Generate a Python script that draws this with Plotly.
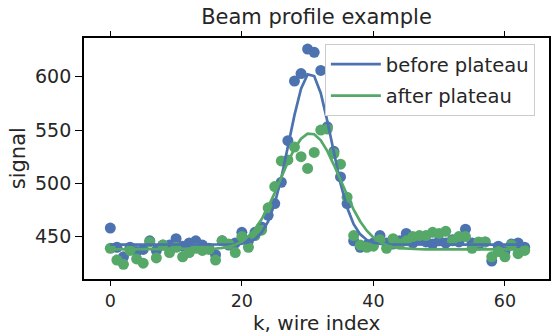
import numpy as np
import plotly.graph_objects as go

# ---- data ----
wire_index = list(range(64))

signal_before = [458, 440, 431, 440, 436, 438, 446, 437, 442, 442,
                 448, 441, 444, 446, 442, 439, 433, 446, 442, 444,
                 454, 446, 454, 459, 470, 481, 501, 540, 596, 603,
                 626, 623, 606, 553, 530, 506, 481, 446, 440, 442,
                 444, 451, 444, 443, 446, 453, 444, 447, 445, 443,
                 446, 444, 447, 445, 457, 444, 442, 445, 427, 441,
                 436, 443, 444, 440]

signal_after = [439, 428, 424, 437, 429, 425, 445, 430, 442, 435,
                440, 431, 435, 439, 437, 438, 428, 446, 443, 435,
                450, 440, 451, 456, 477, 497, 521, 522, 534, 525,
                514, 529, 550, 551, 528, 518, 487, 451, 442, 440,
                441, 447, 439, 448, 443, 446, 450, 451, 451, 454,
                453, 455, 446, 450, 450, 439, 445, 445, 431, 436,
                431, 442, 434, 437]

# Gaussian fit parameters (baseline, amplitude, centre, sigma)
fit_before = dict(base=442.5, amp=161.0, mu=30.4, sigma=3.2)
fit_after = dict(base=438.0, amp=109.0, mu=30.4, sigma=4.5)

series_names = ["before plateau", "after plateau"]
colors = ["#4C72B0", "#55A868"]

x_ticks = [0, 20, 40, 60]
y_ticks = [450, 500, 550, 600]


def gauss(k, p):
    k = np.asarray(k, dtype=float)
    return p["base"] + p["amp"] * np.exp(-(k - p["mu"]) ** 2 / (2 * p["sigma"] ** 2))


fig = go.Figure()
for vals, col in zip([signal_before, signal_after], colors):
    fig.add_trace(go.Scatter(x=wire_index, y=vals, mode="markers",
                             marker=dict(color=col, size=11, line=dict(width=0)),
                             showlegend=False, hoverinfo="skip"))
for i, (p, col, name) in enumerate(zip([fit_before, fit_after], colors, series_names)):
    fig.add_trace(go.Scatter(x=wire_index, y=gauss(wire_index, p), mode="lines",
                             line=dict(color=col, width=2.7), name=name,
                             legendgroup=f"g{i}"))

font_family = "DejaVu Sans"
text_col = "#262626"
axis_common = dict(showgrid=False, zeroline=False, showline=True,
                   linecolor="black", linewidth=1.8, ticks="outside",
                   tickwidth=1.4, tickcolor="black")

fig.update_layout(
    width=553, height=335,
    margin=dict(l=84, r=2, t=38, b=56),
    plot_bgcolor="white", paper_bgcolor="white",
    font=dict(family=font_family, color=text_col),
    title=dict(text="Beam profile example", x=0.5, xref="paper", xanchor="center",
               y=1 - 17 / 335, yanchor="middle",
               font=dict(family=font_family, size=21, color=text_col)),
    xaxis=dict(range=[-4.0, 66.7], tickvals=x_ticks, mirror="ticks", ticklen=5,
               tickfont=dict(family=font_family, size=17.5, color=text_col),
               **axis_common),
    yaxis=dict(range=[410.2, 636.4], tickvals=y_ticks, mirror=True, ticklen=7,
               tickfont=dict(family=font_family, size=19, color=text_col),
               **axis_common),
    legend=dict(x=0.518, y=0.975, xanchor="left", yanchor="top",
                bgcolor="white", bordercolor="#cccccc", borderwidth=1,
                itemwidth=50, tracegroupgap=3, traceorder="grouped",
                font=dict(family=font_family, size=19.5, color=text_col)),
    annotations=[
        dict(text="k, wire index", x=0.5, y=0, xref="paper", yref="paper",
             yshift=-44, xanchor="center", yanchor="middle", showarrow=False,
             font=dict(family=font_family, size=20, color=text_col)),
        dict(text="signal", x=-0.1424, y=0.5, xref="paper", yref="paper",
             xanchor="center", yanchor="middle", showarrow=False, textangle=-90,
             font=dict(family=font_family, size=21, color=text_col)),
    ],
)

fig.write_html("out.html")
